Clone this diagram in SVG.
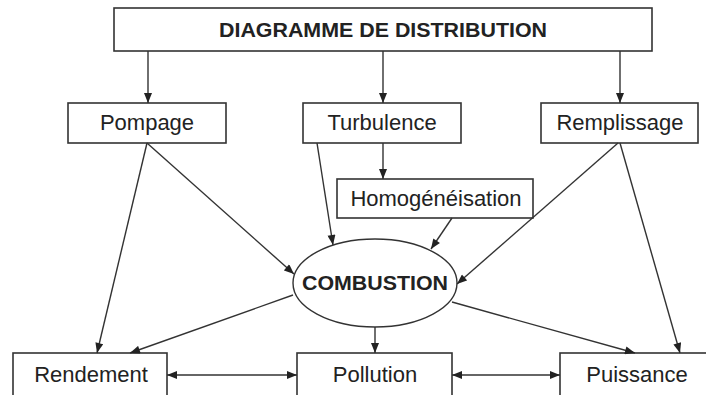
<svg xmlns="http://www.w3.org/2000/svg" width="706" height="395" viewBox="0 0 706 395">
<defs>
<style>
.box{fill:#fff;stroke:#333;stroke-width:1.6}
.t{font-family:"Liberation Sans",Arial,sans-serif;font-size:22px;fill:#222;text-anchor:middle}
.b{font-family:"Liberation Sans",Arial,sans-serif;font-size:21px;font-weight:bold;fill:#222;text-anchor:middle}
.c line{stroke:#333;stroke-width:1.4;fill:none;marker-end:url(#ah)}
.c line.d{marker-start:url(#ah)}
</style>
<marker id="ah" viewBox="0 0 10 8" refX="10" refY="4" markerWidth="11" markerHeight="8" markerUnits="userSpaceOnUse" orient="auto-start-reverse">
<path d="M0,0 L10,4 L0,8 z" fill="#222"/>
</marker>
</defs>
<rect width="706" height="395" fill="#fff"/>
<g id="distribution"><rect class="box" x="114" y="8" width="538" height="43"/><text class="b" x="383" y="37" textLength="328" lengthAdjust="spacingAndGlyphs">DIAGRAMME DE DISTRIBUTION</text></g>
<g id="pompage"><rect class="box" x="68" y="103" width="158" height="40"/><text class="t" x="147" y="130">Pompage</text></g>
<g id="turbulence"><rect class="box" x="303" y="103" width="158" height="40"/><text class="t" x="382" y="130">Turbulence</text></g>
<g id="remplissage"><rect class="box" x="541" y="103" width="157" height="40"/><text class="t" x="620" y="130">Remplissage</text></g>
<g id="homogeneisation"><rect class="box" x="337" y="179" width="196" height="39"/><text class="t" x="436" y="206">Homogénéisation</text></g>
<g id="combustion"><ellipse cx="375" cy="283" rx="82" ry="44" fill="#fff" stroke="#333" stroke-width="1.4"/><text class="b" x="375" y="290" textLength="146" lengthAdjust="spacingAndGlyphs">COMBUSTION</text></g>
<g id="rendement"><rect class="box" x="13" y="353" width="154" height="46"/><text class="t" x="91" y="382">Rendement</text></g>
<g id="pollution"><rect class="box" x="297" y="353" width="155" height="46"/><text class="t" x="375" y="382">Pollution</text></g>
<g id="puissance"><rect class="box" x="560" y="353" width="156" height="46"/><text class="t" x="637" y="382">Puissance</text></g>
<g id="connectors" class="c">
<line x1="148" y1="51" x2="148" y2="103"/>
<line x1="383" y1="51" x2="383" y2="103"/>
<line x1="620" y1="51" x2="620" y2="103"/>
<line x1="383" y1="143" x2="383" y2="179"/>
<line x1="147" y1="143" x2="97" y2="353"/>
<line x1="147" y1="143" x2="294" y2="274"/>
<line x1="317" y1="143" x2="333" y2="245"/>
<line x1="452" y1="218" x2="431" y2="249"/>
<line x1="618" y1="143" x2="457" y2="284"/>
<line x1="620" y1="143" x2="680" y2="353"/>
<line x1="293" y1="295" x2="130" y2="353"/>
<line x1="375" y1="327" x2="375" y2="353"/>
<line x1="452" y1="302" x2="635" y2="353"/>
<line class="d" x1="167" y1="375" x2="297" y2="375"/>
<line class="d" x1="452" y1="375" x2="560" y2="375"/>
</g>
</svg>
